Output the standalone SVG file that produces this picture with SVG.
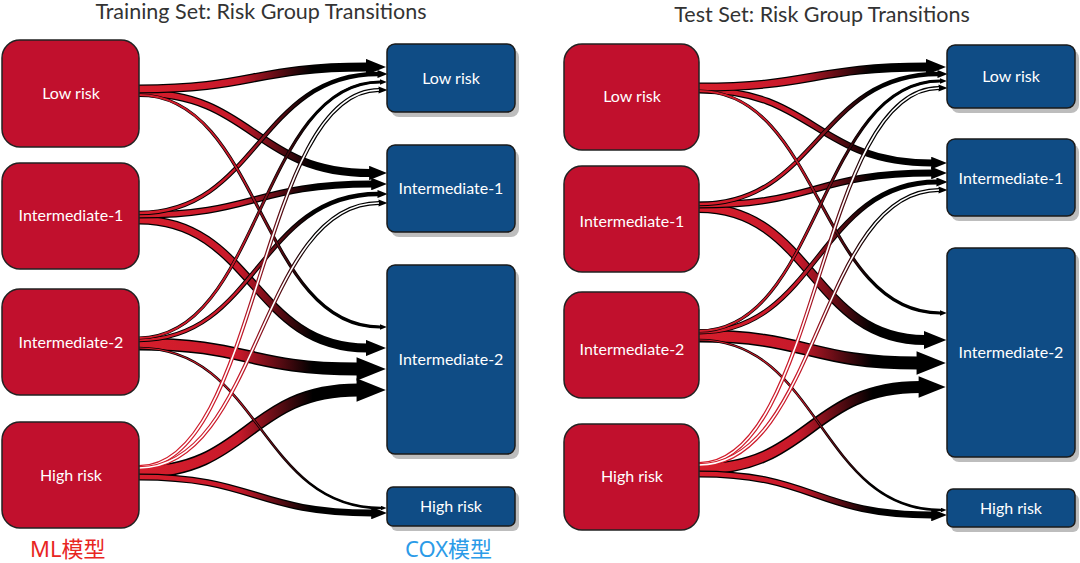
<svg xmlns="http://www.w3.org/2000/svg" width="1080" height="563" viewBox="0 0 1080 563">
<style>
.title{font-family:Lato,"Noto Sans",sans-serif;font-size:21.5px;fill:#333;text-anchor:middle}
.lbl{font-family:Lato,"Noto Sans",sans-serif;font-size:16px;fill:#fff;text-anchor:middle}
.red{fill:#c1102d;stroke:#222;stroke-width:1.5}
.blue{fill:#0f4c85;stroke:#1a1a1a;stroke-width:1.5}
.shd{fill:#999;opacity:0.65}
.ol{fill:none;stroke:#000;marker-end:url(#ah)}
.inL{fill:none;stroke:url(#gL)}
.inR{fill:none;stroke:url(#gR)}
.holL{fill:none;stroke:url(#gL);marker-end:url(#ah)}
.holR{fill:none;stroke:url(#gR);marker-end:url(#ah)}
.wht{fill:none;stroke:#fff}
.cap{font-family:"Noto Sans","Noto Sans CJK SC",sans-serif;font-size:22px}
</style>
<defs>
<marker id="ah" viewBox="0 0 10 8" refX="0.5" refY="4" markerWidth="2.3" markerHeight="1.8" markerUnits="strokeWidth" orient="auto">
<path d="M0,0 L10,4 L0,8 Z" fill="#000"/>
</marker>
<linearGradient id="gL" gradientUnits="userSpaceOnUse" x1="139" y1="0" x2="387" y2="0">
<stop offset="0" stop-color="#d61e2c"/>
<stop offset="0.4" stop-color="#c8192a"/>
<stop offset="0.7" stop-color="#000"/>
<stop offset="1" stop-color="#000"/>
</linearGradient>
<linearGradient id="gR" gradientUnits="userSpaceOnUse" x1="699" y1="0" x2="947" y2="0">
<stop offset="0" stop-color="#d61e2c"/>
<stop offset="0.4" stop-color="#c8192a"/>
<stop offset="0.7" stop-color="#000"/>
<stop offset="1" stop-color="#000"/>
</linearGradient>
</defs>
<rect width="1080" height="563" fill="#fff"/>

<text class="title" x="261" y="19">Training Set: Risk Group Transitions</text>
<text class="title" x="822" y="22">Test Set: Risk Group Transitions</text>

<!-- connectors -->
<g id="connectors">
<!-- left panel -->
<g id="L-I2-I2"><path class="ol" stroke-width="13" d="M139,344 C248,344 248,369 358,369"/><path class="inL" stroke-width="10" d="M139,344 C248,344 248,369 358,369"/></g>
<g id="L-HR-I2"><path class="ol" stroke-width="13" d="M139,472 C248,472 248,390 358,390"/><path class="inL" stroke-width="10" d="M139,472 C248,472 248,390 358,390"/></g>
<g id="L-I1-I2"><path class="ol" stroke-width="9" d="M139,220 C253,220 253,348 367,348"/><path class="inL" stroke-width="6.5" d="M139,220 C253,220 253,348 367,348"/></g>
<g id="L-LR-I1"><path class="ol" stroke-width="8" d="M139,93 C254,93 254,173 370,173"/><path class="inL" stroke-width="5.5" d="M139,93 C254,93 254,173 370,173"/></g>
<g id="L-LR-LR"><path class="ol" stroke-width="9" d="M139,89 C253,89 253,67 367,67"/><path class="inL" stroke-width="6.5" d="M139,89 C253,89 253,67 367,67"/></g>
<g id="L-I1-I1"><path class="ol" stroke-width="7" d="M139,215 C255,215 255,184 372,184"/><path class="inL" stroke-width="4.5" d="M139,215 C255,215 255,184 372,184"/></g>
<g id="L-HR-HR"><path class="ol" stroke-width="7" d="M139,477 C255,477 255,513 372,513"/><path class="inL" stroke-width="4.5" d="M139,477 C255,477 255,513 372,513"/></g>
<g id="L-I1-LR"><path class="ol" stroke-width="4.5" d="M139,213 C258,213 258,74 378,74"/><path class="inL" stroke-width="2.5" d="M139,213 C258,213 258,74 378,74"/></g>
<g id="L-I2-I1"><path class="ol" stroke-width="4.5" d="M139,340 C258,340 258,194 378,194"/><path class="inL" stroke-width="2.5" d="M139,340 C258,340 258,194 378,194"/></g>
<g id="L-LR-I2"><path class="ol" stroke-width="3.2" d="M139,95 C260,95 260,327 380,327"/><path class="inL" stroke-width="1.8" d="M139,95 C260,95 260,327 380,327"/></g>
<g id="L-I2-LR"><path class="ol" stroke-width="3.2" d="M139,338 C260,338 260,82 380,82"/><path class="inL" stroke-width="1.8" d="M139,338 C260,338 260,82 380,82"/></g>
<g id="L-I2-HR"><path class="ol" stroke-width="2.6" d="M139,348 C260,348 260,508 381,508"/><path class="inL" stroke-width="1.2" d="M139,348 C260,348 260,508 381,508"/></g>
<g id="L-HR-LR"><path class="holL" stroke-width="4" d="M139,467 C259,467 259,90 379,90"/><path class="wht" stroke-width="1.6" d="M139,467 C259,467 259,90 379,90"/></g>
<g id="L-HR-I1"><path class="holL" stroke-width="4" d="M139,468 C259,468 259,203 379,203"/><path class="wht" stroke-width="1.6" d="M139,468 C259,468 259,203 379,203"/></g>

<!-- right panel -->
<g id="R-I2-I2"><path class="ol" stroke-width="13" d="M699,336 C808,336 808,363 918,363"/><path class="inR" stroke-width="10" d="M699,336 C808,336 808,363 918,363"/></g>
<g id="R-HR-I2"><path class="ol" stroke-width="12" d="M699,469 C810,469 810,387 920,387"/><path class="inR" stroke-width="9" d="M699,469 C810,469 810,387 920,387"/></g>
<g id="R-I1-I2"><path class="ol" stroke-width="10" d="M699,208 C812,208 812,340 925,340"/><path class="inR" stroke-width="7.5" d="M699,208 C812,208 812,340 925,340"/></g>
<g id="R-LR-I1"><path class="ol" stroke-width="7" d="M699,90 C815,90 815,163 932,163"/><path class="inR" stroke-width="4.5" d="M699,90 C815,90 815,163 932,163"/></g>
<g id="R-LR-LR"><path class="ol" stroke-width="9" d="M699,87 C813,87 813,67 927,67"/><path class="inR" stroke-width="6.5" d="M699,87 C813,87 813,67 927,67"/></g>
<g id="R-I1-I1"><path class="ol" stroke-width="7" d="M699,205 C815,205 815,173 932,173"/><path class="inR" stroke-width="4.5" d="M699,205 C815,205 815,173 932,173"/></g>
<g id="R-HR-HR"><path class="ol" stroke-width="7" d="M699,474 C815,474 815,515 932,515"/><path class="inR" stroke-width="4.5" d="M699,474 C815,474 815,515 932,515"/></g>
<g id="R-I1-LR"><path class="ol" stroke-width="4.5" d="M699,204 C818,204 818,74 938,74"/><path class="inR" stroke-width="2.5" d="M699,204 C818,204 818,74 938,74"/></g>
<g id="R-I2-I1"><path class="ol" stroke-width="5" d="M699,332 C818,332 818,182 937,182"/><path class="inR" stroke-width="3" d="M699,332 C818,332 818,182 937,182"/></g>
<g id="R-LR-I2"><path class="ol" stroke-width="3.2" d="M699,91 C820,91 820,313 940,313"/><path class="inR" stroke-width="1.8" d="M699,91 C820,91 820,313 940,313"/></g>
<g id="R-I2-LR"><path class="ol" stroke-width="3.2" d="M699,331 C820,331 820,81 940,81"/><path class="inR" stroke-width="1.8" d="M699,331 C820,331 820,81 940,81"/></g>
<g id="R-I2-HR"><path class="ol" stroke-width="2.6" d="M699,340 C820,340 820,510 941,510"/><path class="inR" stroke-width="1.2" d="M699,340 C820,340 820,510 941,510"/></g>
<g id="R-HR-LR"><path class="holR" stroke-width="4" d="M699,464 C819,464 819,88 939,88"/><path class="wht" stroke-width="1.6" d="M699,464 C819,464 819,88 939,88"/></g>
<g id="R-HR-I1"><path class="holR" stroke-width="4" d="M699,465 C819,465 819,190 939,190"/><path class="wht" stroke-width="1.6" d="M699,465 C819,465 819,190 939,190"/></g>
</g>

<!-- left panel nodes -->
<g id="L-ml-low"><rect class="red" x="2" y="40" width="137" height="107" rx="18"/><text class="lbl" x="71" y="99">Low risk</text></g>
<g id="L-ml-int1"><rect class="red" x="2" y="163" width="137" height="106" rx="18"/><text class="lbl" x="71" y="221">Intermediate-1</text></g>
<g id="L-ml-int2"><rect class="red" x="2" y="289" width="137" height="106" rx="18"/><text class="lbl" x="71" y="348">Intermediate-2</text></g>
<g id="L-ml-high"><rect class="red" x="2" y="422" width="137" height="106" rx="18"/><text class="lbl" x="71" y="481">High risk</text></g>

<g id="L-cox-low"><rect class="shd" x="391" y="49" width="128" height="68" rx="8"/><rect class="blue" x="387" y="44" width="128" height="68" rx="8"/><text class="lbl" x="451" y="84">Low risk</text></g>
<g id="L-cox-int1"><rect class="shd" x="391" y="150" width="128" height="87" rx="8"/><rect class="blue" x="387" y="145" width="128" height="87" rx="8"/><text class="lbl" x="451" y="194">Intermediate-1</text></g>
<g id="L-cox-int2"><rect class="shd" x="391" y="270" width="128" height="189" rx="8"/><rect class="blue" x="387" y="265" width="128" height="189" rx="8"/><text class="lbl" x="451" y="365">Intermediate-2</text></g>
<g id="L-cox-high"><rect class="shd" x="391" y="492" width="128" height="39" rx="6"/><rect class="blue" x="387" y="487" width="128" height="39" rx="6"/><text class="lbl" x="451" y="512">High risk</text></g>

<!-- right panel nodes -->
<g id="R-ml-low"><rect class="red" x="564" y="44" width="135" height="106" rx="18"/><text class="lbl" x="632" y="102">Low risk</text></g>
<g id="R-ml-int1"><rect class="red" x="564" y="166" width="135" height="106" rx="18"/><text class="lbl" x="632" y="227">Intermediate-1</text></g>
<g id="R-ml-int2"><rect class="red" x="564" y="292" width="135" height="106" rx="18"/><text class="lbl" x="632" y="355">Intermediate-2</text></g>
<g id="R-ml-high"><rect class="red" x="564" y="424" width="135" height="106" rx="18"/><text class="lbl" x="632" y="482">High risk</text></g>

<g id="R-cox-low"><rect class="shd" x="951" y="50" width="128" height="63" rx="8"/><rect class="blue" x="947" y="45" width="128" height="63" rx="8"/><text class="lbl" x="1011" y="82">Low risk</text></g>
<g id="R-cox-int1"><rect class="shd" x="951" y="144" width="128" height="77" rx="8"/><rect class="blue" x="947" y="139" width="128" height="77" rx="8"/><text class="lbl" x="1011" y="184">Intermediate-1</text></g>
<g id="R-cox-int2"><rect class="shd" x="951" y="253" width="128" height="209" rx="8"/><rect class="blue" x="947" y="248" width="128" height="209" rx="8"/><text class="lbl" x="1011" y="358">Intermediate-2</text></g>
<g id="R-cox-high"><rect class="shd" x="951" y="494" width="128" height="38" rx="6"/><rect class="blue" x="947" y="489" width="128" height="38" rx="6"/><text class="lbl" x="1011" y="514">High risk</text></g>

<text class="cap" x="30" y="557" fill="#e8261f">ML模型</text>
<text class="cap" x="405" y="557" fill="#2b9be8">COX模型</text>
</svg>
